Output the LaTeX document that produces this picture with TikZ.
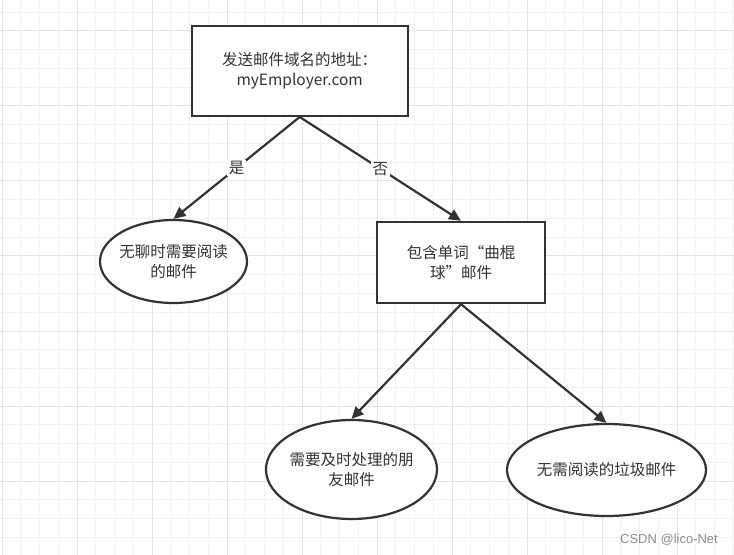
\documentclass[tikz,border=0pt]{standalone}
\usepackage{fontspec}
\setmainfont{Noto Sans CJK SC}
\newfontfamily\marca{Liberation Sans}
\usetikzlibrary{arrows.meta, positioning, shapes.geometric}

\definecolor{linha}{HTML}{333333}
\definecolor{gradefina}{HTML}{F2F2F2}
\definecolor{gradegrossa}{HTML}{E4E4E4}

\begin{document}
\begin{tikzpicture}[x=1bp, y=-1bp, >={Triangle[length=12bp, width=11bp]},
		font=\fontsize{15.5bp}{20bp}\selectfont,
		caixa/.style={draw=linha, line width=2.4bp, fill=white, text=linha, align=center, inner sep=0pt},
		balao/.style={ellipse, draw=linha, line width=2.2bp, fill=white, text=linha, align=center, inner sep=-20bp},
		seta/.style={->, draw=linha, line width=2.2bp},
		rotulo/.style={fill=white, text=linha, inner sep=1.5bp}]
		
		\useasboundingbox (0,0) rectangle (734,555);
		
		% --- Grade de fundo
		\foreach \i in {0,...,39}
			\draw[gradefina, line width=1bp] ({2+18.75*\i},0) -- ({2+18.75*\i},555);
		\foreach \j in {0,...,29}
			\draw[gradefina, line width=1bp] (0,{12.25+18.75*\j}) -- (734,{12.25+18.75*\j});
		\foreach \i in {0,...,9}
			\draw[gradegrossa, line width=1bp] ({2+75*\i},0) -- ({2+75*\i},555);
		\foreach \j in {0,...,7}
			\draw[gradegrossa, line width=1bp] (0,{31+75*\j}) -- (734,{31+75*\j});
		
		% --- Nós
		\node[caixa, minimum width=216bp, minimum height=90bp] (dominio) at (299.7,70.8)
			{发送邮件域名的地址：\\myEmployer.com};
		\node[balao, minimum width=147bp, minimum height=83bp] (tedio) at (173.5,261.5)
			{无聊时需要阅读\\的邮件};
		\node[caixa, minimum width=168bp, minimum height=81bp] (hoquei) at (461,262.5)
			{包含单词“曲棍\\球”邮件};
		\node[balao, minimum width=171bp, minimum height=99bp] (amigos) at (351.5,469.5)
			{需要及时处理的朋\\友邮件};
		\node[balao, minimum width=199bp, minimum height=92bp] (lixo) at (606.5,470)
			{无需阅读的垃圾邮件};
		
		% --- Setas
		\draw[seta] (dominio.south) -- node[rotulo] {是} (tedio.north);
		\draw[seta] (dominio.south) -- node[rotulo] {否} (hoquei.north);
		\draw[seta] (hoquei.south) -- (amigos.north);
		\draw[seta] (hoquei.south) -- (lixo.north);
		
		% --- Marca d'água
		\node[text=black!45, font=\marca\fontsize{13bp}{15bp}\selectfont] (marca) at (669,540) {CSDN @lico-Net};
		
	\end{tikzpicture}
\end{document}
